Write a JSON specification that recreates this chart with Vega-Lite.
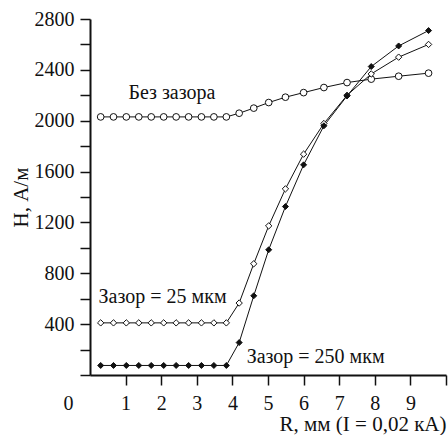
{
  "$schema": "https://vega.github.io/schema/vega-lite/v6.json",
  "autosize": "none",
  "padding": {"left": 90, "top": 19, "right": 2, "bottom": 60},
  "width": 356,
  "height": 356,
  "config": {
    "view": {"stroke": null},
    "font": "Liberation Serif",
    "axis": {
      "grid": false,
      "domainColor": "#111",
      "domainWidth": 2,
      "tickColor": "#111",
      "tickWidth": 1.5,
      "tickSize": 10,
      "labelFont": "Liberation Serif",
      "titleFont": "Liberation Serif",
      "labelFontSize": 20,
      "labelColor": "#111",
      "labelOverlap": false,
      "labelFlush": false,
      "titleFontSize": 21,
      "titleFontWeight": "normal",
      "titleColor": "#111"
    }
  },
  "datasets": {
    "curves": [
      {"s": "A", "x": 0.30, "y": 2030}, {"s": "A", "x": 0.66, "y": 2030}, {"s": "A", "x": 1.02, "y": 2030}, {"s": "A", "x": 1.37, "y": 2030}, {"s": "A", "x": 1.72, "y": 2030}, {"s": "A", "x": 2.07, "y": 2030}, {"s": "A", "x": 2.42, "y": 2030}, {"s": "A", "x": 2.77, "y": 2030}, {"s": "A", "x": 3.13, "y": 2030}, {"s": "A", "x": 3.48, "y": 2030}, {"s": "A", "x": 3.83, "y": 2030},
      {"s": "A", "x": 4.19, "y": 2059}, {"s": "A", "x": 4.60, "y": 2099}, {"s": "A", "x": 5.02, "y": 2143}, {"s": "A", "x": 5.49, "y": 2185}, {"s": "A", "x": 6.00, "y": 2221}, {"s": "A", "x": 6.57, "y": 2261}, {"s": "A", "x": 7.22, "y": 2300}, {"s": "A", "x": 7.90, "y": 2327}, {"s": "A", "x": 8.67, "y": 2350}, {"s": "A", "x": 9.51, "y": 2374},
      {"s": "B", "x": 0.30, "y": 410}, {"s": "B", "x": 0.66, "y": 410}, {"s": "B", "x": 1.02, "y": 410}, {"s": "B", "x": 1.37, "y": 410}, {"s": "B", "x": 1.72, "y": 410}, {"s": "B", "x": 2.07, "y": 410}, {"s": "B", "x": 2.42, "y": 410}, {"s": "B", "x": 2.77, "y": 410}, {"s": "B", "x": 3.13, "y": 410}, {"s": "B", "x": 3.48, "y": 410}, {"s": "B", "x": 3.83, "y": 410},
      {"s": "B", "x": 4.19, "y": 566}, {"s": "B", "x": 4.60, "y": 875}, {"s": "B", "x": 5.02, "y": 1173}, {"s": "B", "x": 5.49, "y": 1464}, {"s": "B", "x": 6.00, "y": 1737}, {"s": "B", "x": 6.57, "y": 1978}, {"s": "B", "x": 7.22, "y": 2200}, {"s": "B", "x": 7.90, "y": 2368}, {"s": "B", "x": 8.67, "y": 2500}, {"s": "B", "x": 9.51, "y": 2600},
      {"s": "C", "x": 0.30, "y": 75}, {"s": "C", "x": 0.66, "y": 75}, {"s": "C", "x": 1.02, "y": 75}, {"s": "C", "x": 1.37, "y": 75}, {"s": "C", "x": 1.72, "y": 75}, {"s": "C", "x": 2.07, "y": 75}, {"s": "C", "x": 2.42, "y": 75}, {"s": "C", "x": 2.77, "y": 75}, {"s": "C", "x": 3.13, "y": 75}, {"s": "C", "x": 3.48, "y": 75}, {"s": "C", "x": 3.83, "y": 75},
      {"s": "C", "x": 4.19, "y": 255}, {"s": "C", "x": 4.60, "y": 623}, {"s": "C", "x": 5.02, "y": 985}, {"s": "C", "x": 5.49, "y": 1325}, {"s": "C", "x": 6.00, "y": 1653}, {"s": "C", "x": 6.57, "y": 1960}, {"s": "C", "x": 7.22, "y": 2195}, {"s": "C", "x": 7.90, "y": 2426}, {"s": "C", "x": 8.67, "y": 2588}, {"s": "C", "x": 9.51, "y": 2709}
    ],
    "labels": [
      {"t": "Без зазора", "x": 1.08, "y": 2219},
      {"t": "Зазор = 25 мкм", "x": 0.24, "y": 616},
      {"t": "Зазор = 250 мкм", "x": 4.4, "y": 144}
    ]
  },
  "encoding": {
    "x": {
      "field": "x", "type": "quantitative",
      "scale": {"domain": [0, 10], "nice": false, "zero": false},
      "axis": {
        "values": [0, 1, 2, 3, 4, 5, 6, 7, 8, 9, 10],
        "labelExpr": "datum.value == 10 ? '' : datum.value",
        "labelOffset": {"condition": {"test": "datum.value == 0", "value": -22}, "value": 0},
        "tickOpacity": {"condition": {"test": "datum.value == 0", "value": 0}, "value": 1},
        "labelPadding": 8,
        "title": "R, мм (I = 0,02 кА)",
        "titleAnchor": "end",
        "titleAlign": "right",
        "titlePadding": 0
      }
    },
    "y": {
      "field": "y", "type": "quantitative",
      "scale": {"domain": [0, 2800], "nice": false},
      "axis": {
        "values": [0, 200, 400, 600, 800, 1000, 1200, 1400, 1600, 1800, 2000, 2200, 2400, 2600, 2800],
        "labelExpr": "datum.value % 400 == 0 && datum.value > 0 ? '' + datum.value : ''",
        "labelPadding": 6,
        "title": "H, А/м",
        "titlePadding": 3
      }
    }
  },
  "layer": [
    {
      "data": {"name": "curves"},
      "mark": {"type": "line", "color": "#111", "strokeWidth": 1},
      "encoding": {
        "detail": {"field": "s"}
      }
    },
    {
      "data": {"name": "curves"},
      "mark": {"type": "point", "filled": true, "stroke": "#111", "strokeWidth": 1, "opacity": 1},
      "encoding": {
        "shape": {"field": "s", "type": "nominal", "scale": {"domain": ["A", "B", "C"], "range": ["circle", "diamond", "diamond"]}, "legend": null},
        "fill": {"field": "s", "type": "nominal", "scale": {"domain": ["A", "B", "C"], "range": ["white", "white", "#111"]}, "legend": null},
        "size": {"field": "s", "type": "nominal", "scale": {"domain": ["A", "B", "C"], "range": [45, 36, 49]}, "legend": null}
      }
    },
    {
      "data": {"name": "labels"},
      "mark": {"type": "text", "align": "left", "baseline": "middle", "font": "Liberation Serif", "fontSize": 20, "color": "#111"},
      "encoding": {
        "text": {"field": "t"}
      }
    }
  ]
}
